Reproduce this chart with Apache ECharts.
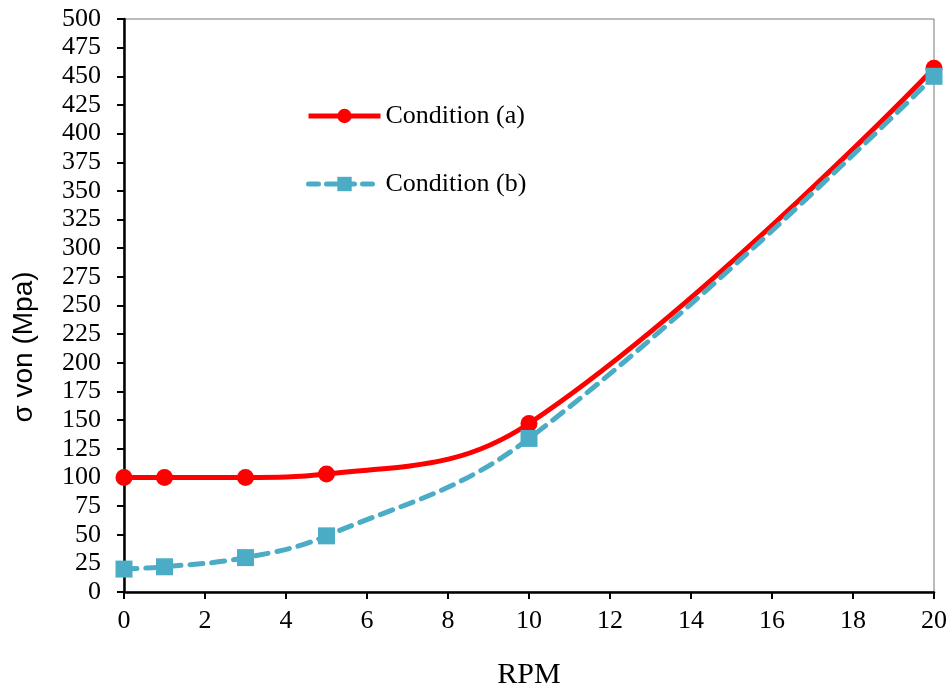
<!DOCTYPE html>
<html><head><meta charset="utf-8">
<script src="https://cdn.jsdelivr.net/npm/echarts@6/dist/echarts.min.js"></script>
<style>html,body{margin:0;padding:0;background:#fff}#c{width:952px;height:688px}</style>
</head><body><div id="c"></div>
<script>
const rpm = [0, 1, 3, 5, 10, 20];
const condA = [100, 100, 100, 103, 147, 457];
const condB = [20, 22, 30, 49, 134, 450];
const nameA = 'Condition (a)';
const nameB = 'Condition (b)';
const yName = 'σ von (Mpa)';
const xName = 'RPM';

const chart = echarts.init(document.getElementById('c'));
const serif = '"Liberation Serif", "Times New Roman", serif';
const red = '#FF0000', teal = '#4BACC6';
const legendText = { fontFamily: serif, fontSize: 26, lineHeight: 26, color: '#000' };
chart.setOption({
  animation: false,
  backgroundColor: '#fff',
  grid: { left: 124, right: 18, top: 19, bottom: 96, containLabel: false, outerBoundsMode: 'none',
    show: true, borderColor: '#777', borderWidth: 1 },
  legend: [
    { left: 306, top: 103, padding: 0, itemWidth: 72, itemHeight: 18, itemGap: 0, textStyle: legendText,
      data: [{ name: nameA, lineStyle: { width: 5, color: red }, itemStyle: { color: red } }] },
    { left: 306, top: 171, padding: 0, itemWidth: 72, itemHeight: 18, itemGap: 0, textStyle: legendText,
      data: [{ name: nameB, lineStyle: { width: 5, color: teal, type: [10, 8] }, itemStyle: { color: teal } }] }
  ],
  graphic: [{
    type: 'text', x: 24, y: 347, rotation: Math.PI / 2,
    style: { text: yName, fontFamily: '"Liberation Sans", Arial, sans-serif', fontSize: 28,
      fill: '#000', align: 'center', verticalAlign: 'middle' }
  }],
  xAxis: {
    type: 'value', min: 0, max: 20, interval: 2,
    name: xName, nameLocation: 'middle', nameGap: 68,
    nameTextStyle: { fontFamily: serif, fontSize: 30, color: '#000' },
    axisLine: { onZero: false, lineStyle: { color: '#000', width: 2.5 } },
    axisTick: { show: true, inside: false, length: 7, lineStyle: { color: '#000', width: 2 } },
    axisLabel: { fontFamily: serif, fontSize: 26, color: '#000', margin: 16 },
    splitLine: { show: false }
  },
  yAxis: {
    type: 'value', min: 0, max: 500, interval: 25,
    axisLine: { show: true, lineStyle: { color: '#000', width: 2.5 } },
    axisTick: { show: true, inside: false, length: 7, lineStyle: { color: '#000', width: 2 } },
    axisLabel: { fontFamily: serif, fontSize: 26, color: '#000', margin: 23 },
    splitLine: { show: false }
  },
  series: [
    {
      name: nameA, type: 'line', smooth: 0.4,
      data: rpm.map((x, i) => [x, condA[i]]),
      symbol: 'circle', symbolSize: 17,
      lineStyle: { color: red, width: 5 },
      itemStyle: { color: red }
    },
    {
      name: nameB, type: 'line', smooth: 0.4,
      data: rpm.map((x, i) => [x, condB[i]]),
      symbol: 'rect', symbolSize: 17,
      lineStyle: { color: teal, width: 5, type: [13, 9], cap: 'round' },
      itemStyle: { color: teal }
    }
  ]
});
</script></body></html>
